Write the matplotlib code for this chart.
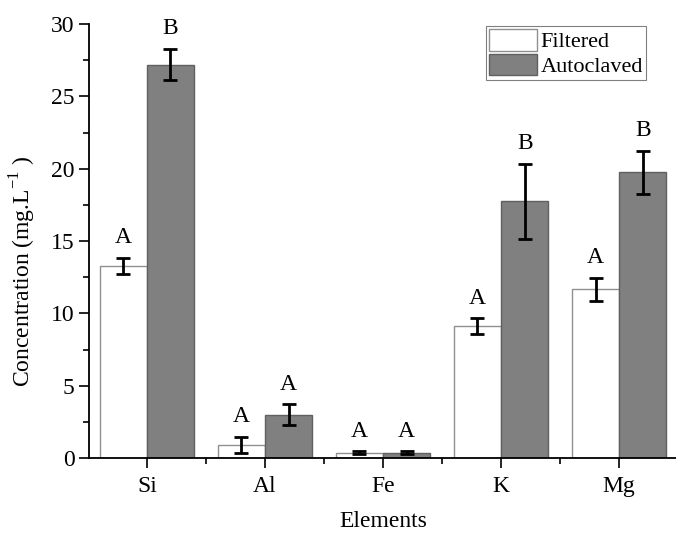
import numpy as np
import matplotlib.pyplot as plt
from matplotlib.ticker import MultipleLocator, FixedLocator

plt.rcParams['font.family'] = ['Liberation Serif', 'DejaVu Serif']
plt.rcParams['mathtext.fontset'] = 'custom'
plt.rcParams['mathtext.rm'] = 'Liberation Serif'

elements = ["Si", "Al", "Fe", "K", "Mg"]
filtered = [13.3, 0.9, 0.35, 9.1, 11.65]
filtered_err = [0.55, 0.55, 0.1, 0.55, 0.8]
autoclaved = [27.2, 3.0, 0.35, 17.75, 19.75]
autoclaved_err = [1.1, 0.7, 0.1, 2.6, 1.5]
letters_filtered = ["A", "A", "A", "A", "A"]
letters_autoclaved = ["B", "A", "A", "B", "B"]

fs = 17

fig = plt.figure(figsize=(6.76, 5.33), dpi=100)
ax = fig.add_axes([89/676, 1-458/533, 588/676, 434/533])

x = np.arange(len(elements))
w = 0.4
ax.bar(x - w/2, filtered, w, color='white', edgecolor='#909090', linewidth=1.0, label='Filtered')
ax.bar(x + w/2, autoclaved, w, color='#808080', edgecolor='#606060', linewidth=1.0, label='Autoclaved')
ax.errorbar(x - w/2, filtered, yerr=filtered_err, fmt='none', ecolor='black', elinewidth=2, capsize=5, capthick=2)
ax.errorbar(x + w/2, autoclaved, yerr=autoclaved_err, fmt='none', ecolor='black', elinewidth=2, capsize=5, capthick=2)

# significance letters above the error bars
for i in range(len(elements)):
    ax.annotate(letters_filtered[i], (x[i] - w/2, filtered[i] + filtered_err[i]),
                xytext=(0, 7), textcoords='offset points', ha='center', va='bottom', fontsize=fs)
    ax.annotate(letters_autoclaved[i], (x[i] + w/2, autoclaved[i] + autoclaved_err[i]),
                xytext=(0, 7), textcoords='offset points', ha='center', va='bottom', fontsize=fs)

ax.set_xlim(-0.49, 4.49)
ax.set_ylim(0, 30)
ax.set_xticks(x)
ax.set_xticklabels(elements, fontsize=fs)
ax.xaxis.set_minor_locator(FixedLocator(x[:-1] + 0.5))
ax.yaxis.set_major_locator(MultipleLocator(5))
ax.yaxis.set_minor_locator(MultipleLocator(2.5))
ax.tick_params(axis='both', which='major', labelsize=fs, width=1.2, length=7, direction='out')
ax.tick_params(axis='both', which='minor', width=1.2, length=4, direction='out')
ax.tick_params(axis='x', pad=6)

ax.spines['top'].set_visible(False)
ax.spines['right'].set_visible(False)
ax.spines['left'].set_linewidth(1.3)
ax.spines['bottom'].set_linewidth(1.3)

ax.set_xlabel('Elements', fontsize=fs, labelpad=10)
ax.set_ylabel('Concentration (mg.L$^{\\mathregular{-1}}$ )', fontsize=fs)
ax.yaxis.set_label_coords(-0.086, 0.43)

leg = ax.legend(loc='upper right', bbox_to_anchor=(0.955, 1.006), fontsize=16, frameon=True, fancybox=False,
                edgecolor='#606060', handlelength=2.15, handleheight=1.1, borderpad=0.15, labelspacing=0.05,
                handletextpad=0.15, borderaxespad=0.2)
leg.get_frame().set_linewidth(0.8)

fig.savefig('out.png', dpi=100)
